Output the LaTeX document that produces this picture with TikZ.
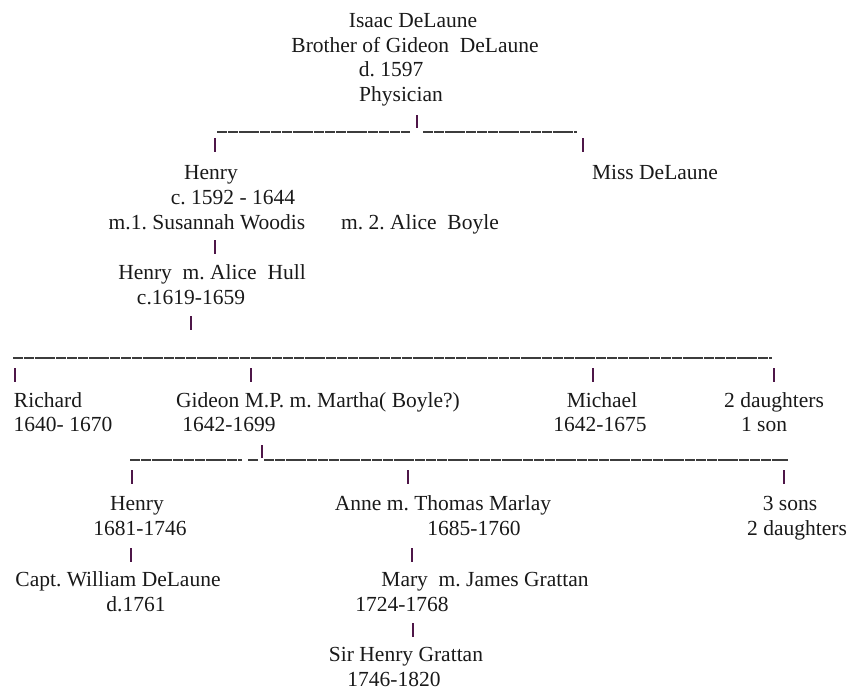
\documentclass[tikz,border=0pt]{standalone}
\usepackage{fontspec}
\setmainfont{Liberation Serif}
\definecolor{pipec}{RGB}{78,22,72}
\definecolor{inkc}{RGB}{25,25,25}
\definecolor{barc}{RGB}{60,60,60}
\frenchspacing
\begin{document}
\begin{tikzpicture}[x=1pt,y=-1pt,
  txt/.style={inner sep=0pt, anchor=base, text=inkc, font=\fontsize{21.5}{25}\selectfont\frenchspacing},
  pipe/.style={draw=pipec, line width=1.4pt},
  bar/.style={draw=barc, line width=1.3pt, dash pattern=on 10pt off 0.8pt}]
\useasboundingbox (0,0) rectangle (850,691);
% ---- text nodes (x = centre, y = baseline) ----
\node[txt] (isaac) at (413,27) {Isaac DeLaune};
\node[txt] (brother) at (415,52) {Brother of Gideon\ \ DeLaune};
\node[txt] (d1597) at (391,76) {d. 1597};
\node[txt] (phys) at (401,101) {Physician};
\node[txt] (henry1) at (211,179) {Henry};
\node[txt] (h1dates) at (233,204) {c. 1592 - 1644};
\node[txt] (m1) at (207,229) {m.1. Susannah Woodis};
\node[txt] (m2) at (420,229) {m. 2. Alice\ \ Boyle};
\node[txt] (miss) at (655,179) {Miss DeLaune};
\node[txt] (henry2) at (212,279) {Henry\ \ m. Alice\ \ Hull};
\node[txt] (h2dates) at (191,304) {c.1619-1659};
\node[txt] (richard) at (48,407) {Richard};
\node[txt] (rdates) at (63,431) {1640- 1670};
\node[txt] (gideon) at (318,407) {Gideon M.P. m. Martha( Boyle?)};
\node[txt] (gdates) at (229,431) {1642-1699};
\node[txt] (michael) at (602,407) {Michael};
\node[txt] (mdates) at (600,431) {1642-1675};
\node[txt] (dau1) at (774,407) {2 daughters};
\node[txt] (son1) at (764,431) {1 son};
\node[txt] (henry3) at (137,510) {Henry};
\node[txt] (h3dates) at (140,535) {1681-1746};
\node[txt] (anne) at (443,510) {Anne m. Thomas Marlay};
\node[txt] (adates) at (474,535) {1685-1760};
\node[txt] (sons3) at (790,510) {3 sons};
\node[txt] (dau2) at (797,535) {2 daughters};
\node[txt] (capt) at (118,586) {Capt. William DeLaune};
\node[txt] (cdates) at (136,611) {d.1761};
\node[txt] (mary) at (485,586) {Mary\ \ m. James Grattan};
\node[txt] (marydates) at (402,611) {1724-1768};
\node[txt] (sirh) at (406,661) {Sir Henry Grattan};
\node[txt] (sdates) at (394,686) {1746-1820};
% ---- connector end points ----
\coordinate (a1) at (217,132); \coordinate (a2) at (410,132);
\coordinate (a3) at (423,132); \coordinate (a4) at (577,132);
\coordinate (ap1) at (417,115); \coordinate (ap2) at (417,128);
\coordinate (t1a) at (215,138); \coordinate (t1b) at (215,152);
\coordinate (t2a) at (583,138); \coordinate (t2b) at (583,152);
\coordinate (t3a) at (215,240); \coordinate (t3b) at (215,254);
\coordinate (t4a) at (191,316); \coordinate (t4b) at (191,330);
\coordinate (b1) at (13,358); \coordinate (b2) at (772,358);
\coordinate (t5a) at (15,368); \coordinate (t5b) at (15,382);
\coordinate (t6a) at (251,368); \coordinate (t6b) at (251,382);
\coordinate (t7a) at (593,368); \coordinate (t7b) at (593,382);
\coordinate (t8a) at (774,368); \coordinate (t8b) at (774,382);
\coordinate (c1) at (130,460); \coordinate (c2) at (242,460);
\coordinate (c3) at (248,460); \coordinate (c4) at (258,460);
\coordinate (c5) at (264,460); \coordinate (c6) at (788,460);
\coordinate (cp1) at (262,445); \coordinate (cp2) at (262,458);
\coordinate (t9a) at (132,470); \coordinate (t9b) at (132,484);
\coordinate (t10a) at (408,470); \coordinate (t10b) at (408,484);
\coordinate (t11a) at (784,470); \coordinate (t11b) at (784,484);
\coordinate (t12a) at (131,548); \coordinate (t12b) at (131,562);
\coordinate (t13a) at (412,548); \coordinate (t13b) at (412,562);
\coordinate (t14a) at (413,623); \coordinate (t14b) at (413,637);
% ---- underscore bars ----
\draw[bar] (a1) -- (a2);
\draw[bar] (a3) -- (a4);
\draw[bar] (b1) -- (b2);
\draw[bar] (c1) -- (c2);
\draw[bar] (c3) -- (c4);
\draw[bar] (c5) -- (c6);
% ---- pipes ----
\foreach \p in {ap,cp} \draw[pipe] (\p1) -- (\p2);
\foreach \t in {t1,t2,t3,t4,t5,t6,t7,t8,t9,t10,t11,t12,t13,t14} \draw[pipe] (\t a) -- (\t b);
\end{tikzpicture}
\end{document}
